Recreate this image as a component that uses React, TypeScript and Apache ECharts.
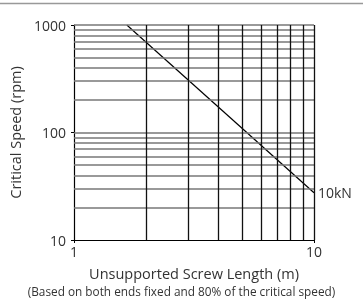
import React, { useEffect, useRef } from "react";
import * as echarts from "echarts";

const lengthM = [1.66, 10];
const speedRpm = [1000, 27.5];
const seriesName = "10kN";
const xMinorLines = [2, 3, 4, 5, 6, 7, 8, 9, 10];
const yMinorLines = [20, 30, 40, 50, 60, 70, 80, 90, 100, 200, 300, 400, 500, 600, 700, 800, 900, 1000];
const xTitle = "Unsupported Screw Length (m)";
const yTitle = "Critical Speed (rpm)";
const note = "(Based on both ends fixed and 80% of the critical speed)";

export default function App() {
  const ref = useRef<HTMLDivElement>(null);
  useEffect(() => {
    if (!ref.current) return;
    const chart = echarts.init(ref.current, null, { renderer: "svg" });
    const font = "'Open Sans', Roboto, sans-serif";
    const data = lengthM.map((x, i) => [x, speedRpm[i]]);
    chart.setOption({
      animation: false,
      grid: { left: 74, right: 49, top: 25, bottom: 60, containLabel: false },
      graphic: [
        { type: "line", shape: { x1: 0, y1: 3.5, x2: 363, y2: 3.5 }, style: { stroke: "#999", lineWidth: 1.5 } },
        { type: "text", left: "center", top: 285, style: { text: note, font: `11.8px ${font}`, fill: "#333" } },
      ],
      xAxis: {
        type: "log",
        logBase: 10,
        min: 1,
        max: 10,
        name: xTitle,
        nameLocation: "middle",
        nameGap: 26,
        nameTextStyle: { fontFamily: font, fontSize: 14.5, color: "#333" },
        axisLine: { show: true, lineStyle: { color: "#000", width: 1.2 } },
        axisTick: { show: true, length: 3, lineStyle: { color: "#000" } },
        axisLabel: { fontFamily: font, fontSize: 14, color: "#333", margin: 4, formatter: (v: number) => String(v) },
        splitLine: { show: false },
      },
      yAxis: {
        type: "log",
        logBase: 10,
        min: 10,
        max: 1000,
        name: yTitle,
        nameLocation: "middle",
        nameGap: 44,
        nameTextStyle: { fontFamily: font, fontSize: 14.5, color: "#333" },
        axisLine: { show: true, lineStyle: { color: "#000", width: 1.2 } },
        axisTick: { show: true, length: 3, lineStyle: { color: "#000" } },
        axisLabel: { fontFamily: font, fontSize: 14, color: "#333", margin: 8, formatter: (v: number) => String(v) },
        splitLine: { show: false },
      },
      series: [
        {
          type: "line",
          name: "hgrid",
          data: [],
          silent: true,
          markLine: {
            silent: true,
            symbol: "none",
            label: { show: false },
            lineStyle: { color: "#777", width: 1.5, type: "solid" },
            data: yMinorLines.map((v) => ({ yAxis: v })),
          },
        },
        {
          type: "line",
          name: "vgrid",
          data: [],
          silent: true,
          markLine: {
            silent: true,
            symbol: "none",
            label: { show: false },
            lineStyle: { color: "#111", width: 1.3, type: "solid" },
            data: xMinorLines.map((v) => ({ xAxis: v })),
          },
        },
        {
          type: "line",
          name: seriesName,
          data,
          showSymbol: false,
          symbol: "none",
          lineStyle: { color: "#000", width: 1.2 },
          endLabel: {
            show: true,
            formatter: seriesName,
            fontFamily: font,
            fontSize: 14,
            color: "#333",
            distance: 4,
          },
        },
      ],
    });
    return () => chart.dispose();
  }, []);
  return <div ref={ref} style={{ position: "fixed", left: 0, top: 0, width: 363, height: 300 }} />;
}
